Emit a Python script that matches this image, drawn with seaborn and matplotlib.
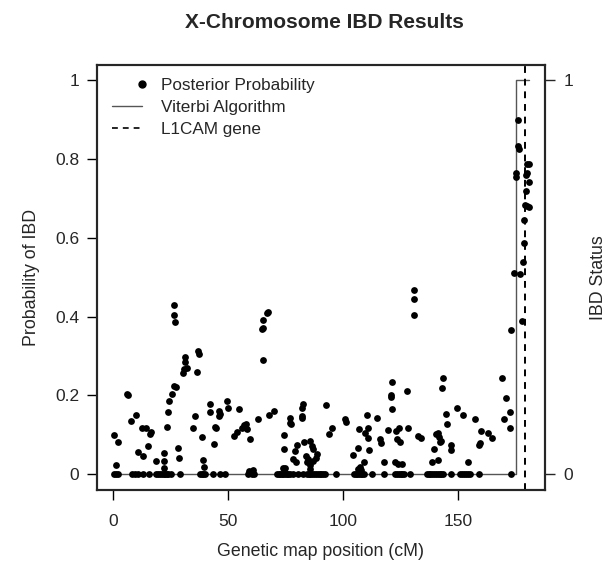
import matplotlib
matplotlib.use("Agg")
import matplotlib.pyplot as plt
import seaborn as sns
import pandas as pd
from matplotlib.lines import Line2D
from matplotlib.legend_handler import HandlerLine2DCompound

# markers with posterior probability 0
zero_pos = [0.5, 1.2, 2.0, 8.4, 9.6, 11.0, 13.2, 15.4, 18.7, 19.7, 20.5, 21.2, 22.0, 22.6,
            23.3, 24.0, 25.2, 29.1, 37.8, 38.6, 39.3, 40.0, 43.6, 46.5, 48.7, 58.8, 60.3,
            61.4, 71.2, 72.0, 72.6, 73.3, 74.0, 74.6, 75.5, 76.2, 77.0, 78.4, 80.6, 82.7,
            84.2, 85.0, 85.8, 86.6, 87.4, 88.2, 89.0, 89.8, 90.6, 91.4, 92.2, 97.0, 104.8,
            105.5, 106.2, 107.0, 107.7, 108.4, 109.1, 112.5, 117.8, 122.6, 123.4, 124.2,
            125.0, 125.8, 126.5, 129.1, 136.4, 137.2, 138.0, 138.8, 139.6, 140.4, 141.2,
            142.0, 142.8, 143.6, 146.8, 150.9, 151.8, 152.6, 153.4, 154.3, 155.2, 159.3, 172.9]

# markers with posterior probability > 0
pos = [0.5, 2.3, 1.2, 6.2, 6.6, 7.8, 9.9, 11.0, 13.2, 12.5, 14.3, 16.1, 16.5, 15.1, 18.7,
       22.3, 22.3, 22.1, 23.5, 23.8, 24.1, 25.8, 26.5, 27.4, 26.7, 26.7, 26.8, 28.4, 28.8,
       30.3, 31.0, 31.2, 31.3, 32.0, 34.6, 35.7, 36.4, 36.8, 37.5, 38.8, 39.3, 39.7,
       42.2, 42.2, 43.9, 44.3, 44.6, 46.1, 46.2, 46.3, 49.7, 50.1, 52.7, 53.8, 54.8,
       56.0, 57.0, 58.0, 58.2, 59.6, 59.3, 61.0, 63.2, 64.9, 65.1, 65.3, 65.4, 66.8, 67.5,
       67.8, 70.1, 74.5, 74.3, 73.8, 74.8, 76.8, 77.0, 77.3, 79.9, 79.1, 78.1, 79.6,
       82.0, 82.2, 82.3, 82.5, 83.2, 85.7, 86.4, 86.8, 83.9, 84.9, 84.2, 85.7, 87.1, 88.3,
       88.8, 85.7, 92.5, 94.0, 95.1, 100.9, 101.3, 104.5, 106.7, 107.1, 106.3, 107.2, 108.0,
       110.3, 109.6, 111.0, 110.7, 111.4, 109.1, 114.9, 116.1, 116.4, 117.8, 119.7,
       121.2, 120.9, 121.0, 121.4, 123.0, 124.3, 123.3, 124.8, 122.6, 124.1,
       127.7, 128.4, 125.5, 130.9, 130.9, 130.8, 132.7, 133.9, 143.3, 142.9, 144.6, 145.1,
       140.5, 141.3, 141.8, 142.0, 142.5, 139.7, 138.6, 141.2, 147.1, 147.1, 149.4, 152.0,
       154.5, 157.3, 159.9, 159.6, 159.3, 163.0, 164.6, 169.0, 170.9, 170.1, 172.8, 172.7,
       173.2, 177.7, 174.3, 177.0, 178.1, 178.7, 178.8, 179.1, 180.1, 181.0, 179.6, 180.9,
       179.6, 179.9, 180.1, 181.0, 175.2, 175.2, 176.0, 176.5, 176.2]
prob = [0.10, 0.082, 0.024, 0.204, 0.201, 0.135, 0.149, 0.056, 0.046, 0.118, 0.118, 0.101,
        0.107, 0.072, 0.034, 0.053, 0.034, 0.015, 0.12, 0.158, 0.187, 0.203, 0.224, 0.222,
        0.43, 0.405, 0.386, 0.067, 0.04, 0.258, 0.266, 0.284, 0.298, 0.27, 0.116, 0.148,
        0.26, 0.312, 0.306, 0.094, 0.035, 0.017, 0.179, 0.159, 0.076, 0.12, 0.116, 0.16,
        0.148, 0.152, 0.186, 0.169, 0.097, 0.107, 0.165, 0.118, 0.124, 0.127, 0.114, 0.09,
        0.007, 0.011, 0.141, 0.369, 0.372, 0.391, 0.289, 0.409, 0.413, 0.15, 0.16,
        0.099, 0.063, 0.015, 0.015, 0.143, 0.129, 0.127, 0.074, 0.059, 0.038, 0.031,
        0.143, 0.148, 0.169, 0.177, 0.082, 0.084, 0.072, 0.063, 0.045, 0.038, 0.030, 0.023,
        0.034, 0.042, 0.052, 0.014, 0.176, 0.103, 0.118, 0.141, 0.133, 0.048, 0.066, 0.114,
        0.012, 0.018, 0.010, 0.151, 0.105, 0.093, 0.118, 0.061, 0.032, 0.142, 0.089, 0.078,
        0.032, 0.111, 0.234, 0.2, 0.197, 0.165, 0.11, 0.118, 0.089, 0.082, 0.03, 0.025,
        0.212, 0.118, 0.025, 0.468, 0.446, 0.403, 0.096, 0.093, 0.243, 0.218, 0.154, 0.127,
        0.101, 0.105, 0.095, 0.082, 0.085, 0.063, 0.03, 0.035, 0.074, 0.062, 0.168, 0.149,
        0.03, 0.14, 0.11, 0.08, 0.073, 0.105, 0.093, 0.244, 0.194, 0.141, 0.157, 0.118,
        0.365, 0.39, 0.51, 0.508, 0.54, 0.588, 0.645, 0.684, 0.681, 0.678, 0.72, 0.743,
        0.76, 0.764, 0.789, 0.789, 0.765, 0.754, 0.833, 0.825, 0.899]

# Viterbi state path and gene location
viterbi_x = [0.5, 175.1, 181.0]
viterbi_y = [0, 1, 1]
l1cam_pos = 179.1

df = pd.DataFrame({
    "cM": zero_pos + pos,
    "prob": [0.0] * len(zero_pos) + prob,
})
vit = pd.DataFrame({"cM": viterbi_x, "state": viterbi_y})


class RightDot(HandlerLine2DCompound):
    # put the legend dot at the right end of the handle, like R does
    def get_xdata(self, legend, xdescent, ydescent, width, height, fontsize):
        return [-xdescent, -xdescent + width], [-xdescent + width]


sns.set_style("white")
plt.rcParams["font.family"] = ["Liberation Sans", "DejaVu Sans"]
plt.rcParams["xtick.direction"] = "out"
plt.rcParams["ytick.direction"] = "out"

fig = plt.figure(figsize=(6.15, 5.75), dpi=100)
ax = fig.add_axes([0.157, 0.148, 0.729, 0.7395])

sns.lineplot(data=vit, x="cM", y="state", ax=ax, color="#555555", linewidth=1.0,
             drawstyle="steps-post", estimator=None, sort=False)
sns.scatterplot(data=df, x="cM", y="prob", ax=ax, color="black", s=24,
                linewidth=0, zorder=3)
ax.axvline(l1cam_pos, color="black", linestyle=(0, (3.5, 3)), linewidth=1.4)

ax.set_xlim(-7.2, 187.8)
ax.set_ylim(-0.04, 1.04)
ax.set_xticks([0, 50, 100, 150])
ax.set_xticklabels(["0", "50", "100", "150"])
ax.set_yticks([0, 0.2, 0.4, 0.6, 0.8, 1.0])
ax.set_yticklabels(["0", "0.2", "0.4", "0.6", "0.8", "1"])
ax.tick_params(axis="both", length=7.5, width=1, labelsize=12.5, color="black",
               left=True, bottom=True)
ax.tick_params(axis="x", pad=10)
ax.tick_params(axis="y", pad=5)
ax.set_xlabel("Genetic map position (cM)", fontsize=12.8, labelpad=10)
ax.set_ylabel("Probability of IBD", fontsize=12.8, labelpad=11)
for s in ax.spines.values():
    s.set_linewidth(1.5)
    s.set_color("black")

ax2 = ax.twinx()
ax2.set_ylim(-0.04, 1.04)
ax2.set_yticks([0, 1])
ax2.set_yticklabels(["0", "1"])
ax2.tick_params(axis="y", length=7.5, width=1, labelsize=12.5, pad=6, right=True)
ax2.set_ylabel("IBD Status", fontsize=12.8, labelpad=12)
for s in ax2.spines.values():
    s.set_linewidth(1.5)

fig.text(0.527, 0.961, "X-Chromosome IBD Results", ha="center", va="center",
         fontsize=15, fontweight="bold")

handles = [
    Line2D([], [], marker="o", color="black", linestyle="none", markersize=5),
    Line2D([], [], color="#555555", linewidth=1.0),
    Line2D([], [], color="black", linestyle=(0, (3.5, 3)), linewidth=1.2),
]
ax.legend(handles, ["Posterior Probability", "Viterbi Algorithm", "L1CAM gene"],
          loc="upper left", bbox_to_anchor=(0.005, 1.0), frameon=False,
          fontsize=12.3, handlelength=1.75, handletextpad=1.1, labelspacing=0.4,
          borderaxespad=0.4, handler_map={handles[0]: RightDot()})

fig.savefig("out.png", dpi=100)
